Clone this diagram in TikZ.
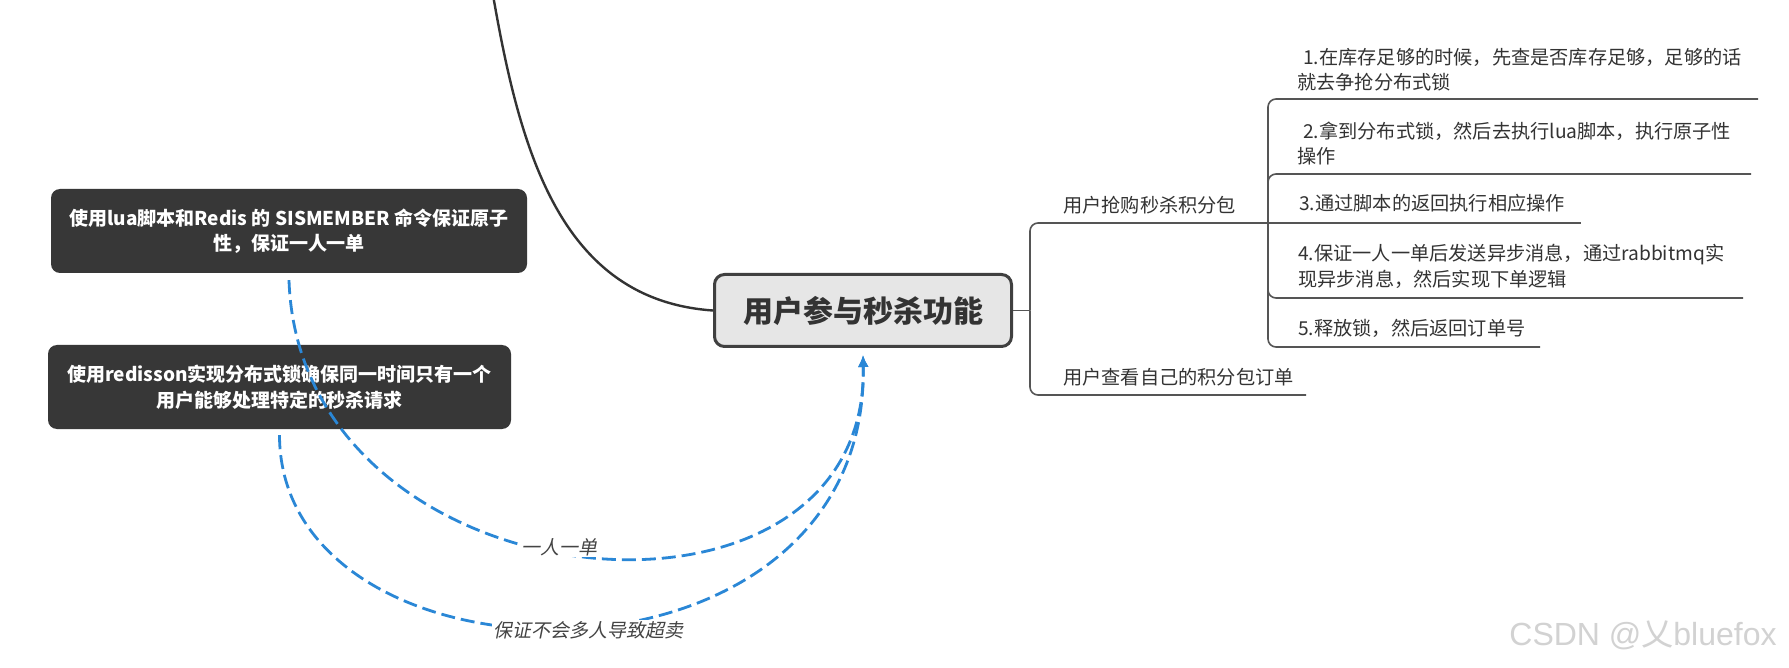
\documentclass[tikz,border=0pt]{standalone}
\usepackage{fontspec}
\setmainfont{Noto Sans CJK SC}
\newfontfamily\cjkit{Noto Sans CJK SC}[FakeSlant=0.2]
\newfontfamily\wmfont{Liberation Sans}
\usetikzlibrary{arrows.meta}
\definecolor{ink}{HTML}{333333}
\definecolor{darkfill}{HTML}{373737}
\definecolor{topicfill}{HTML}{E6E6E6}
\definecolor{topicline}{HTML}{404040}
\definecolor{linegray}{HTML}{555555}
\definecolor{relblue}{HTML}{2A87D6}
\definecolor{labgray}{HTML}{444444}
\definecolor{wmgray}{HTML}{D2D2D2}
\begin{document}
\begin{tikzpicture}[x=1pt,y=-1pt,
  darkbox/.style={fill=darkfill, rounded corners=9pt, text=white, align=center, inner sep=0pt,
    font=\bfseries\fontsize{19}{25.5}\selectfont},
  topic/.style={draw=topicline, fill=topicfill, line width=3pt, rounded corners=10pt, text=ink,
    minimum width=297pt, minimum height=72pt, inner sep=0pt, font=\bfseries\fontsize{30}{36}\selectfont},
  itemtext/.style={anchor=west, inner sep=0pt, text=ink, align=left, font=\fontsize{19.2}{25.5}\selectfont},
  branch/.style={draw=linegray, line width=1.6pt, rounded corners=8pt},
  maincurve/.style={draw=ink, line width=2.4pt},
  rel/.style={draw=relblue, line width=2.8pt, dash pattern=on 14pt off 6pt, -{Latex[length=12pt,width=11pt]}},
  rellabel/.style={fill=white, inner sep=1pt, text=labgray, font=\cjkit\fontsize{19}{22}\selectfont}
]
\useasboundingbox[fill=white] (0,0) rectangle (1789,668);

% central topic
\node[topic] (c) at (863,310.5) {用户参与秒杀功能};

% curve from the upper parent
\coordinate (top) at (493,-5);
\draw[maincurve] (top) .. controls (520,150) and (560,300) .. (c.west);

% left notes
\node[darkbox, minimum width=476pt, minimum height=84pt] (b1) at (289,231)
  {使用lua脚本和Redis 的 SISMEMBER 命令保证原子\\性，保证一人一单};
\node[darkbox, minimum width=463pt, minimum height=84pt] (b2) at (279.5,387)
  {使用redisson实现分布式锁确保同一时间只有一个\\用户能够处理特定的秒杀请求};

% right branches
\coordinate (sp) at (1030,310.5);
\coordinate (j1) at (1268,223);
\coordinate (e2) at (1306,395);
\coordinate (u1) at (1758,99);
\coordinate (u2) at (1751,174);
\coordinate (u3) at (1581,223);
\coordinate (u4) at (1743,298);
\coordinate (u5) at (1540,347);

\draw[branch] (c.east) -- (sp);
\draw[branch] (sp) |- (j1);
\draw[branch] (sp) |- (e2);
\draw[branch] (j1) -- (u3);
\draw[branch] (j1) |- (u1);
\draw[branch] (j1) |- (u2);
\draw[branch] (j1) |- (u4);
\draw[branch] (j1) |- (u5);

\node[itemtext] (t1) at (1063,205) {用户抢购秒杀积分包};
\node[itemtext] (t2) at (1063,377) {用户查看自己的积分包订单};
\node[itemtext] (i1) at (1297,69.5) {\hspace*{6pt}1.在库存足够的时候，先查是否库存足够，足够的话\\就去争抢分布式锁};
\node[itemtext] (i2) at (1297,143.5) {\hspace*{6pt}2.拿到分布式锁，然后去执行lua脚本，执行原子性\\操作};
\node[itemtext] (i3) at (1299,203) {3.通过脚本的返回执行相应操作};
\node[itemtext] (i4) at (1298,266.5) {4.保证一人一单后发送异步消息，通过rabbitmq实\\现异步消息，然后实现下单逻辑};
\node[itemtext] (i5) at (1298,328) {5.释放锁，然后返回订单号};

% relationships
\draw[rel] ([yshift=-7pt]b1.south) .. controls (300,610) and (870,660) .. ([yshift=-7pt]c.south);
\draw[rel] ([yshift=-6pt]b2.south) .. controls (280,700) and (870,710) .. ([yshift=-7pt]c.south);
\node[rellabel] (l1) at (559,547) {一人一单};
\node[rellabel] (l2) at (588,630) {保证不会多人导致超卖};

% watermark
\node[text=wmgray, inner sep=0pt, font=\fontsize{32}{36}\selectfont] (wm) at (1643,635)
  {{\wmfont CSDN @}乂{\wmfont bluefox}};
\end{tikzpicture}
\end{document}
